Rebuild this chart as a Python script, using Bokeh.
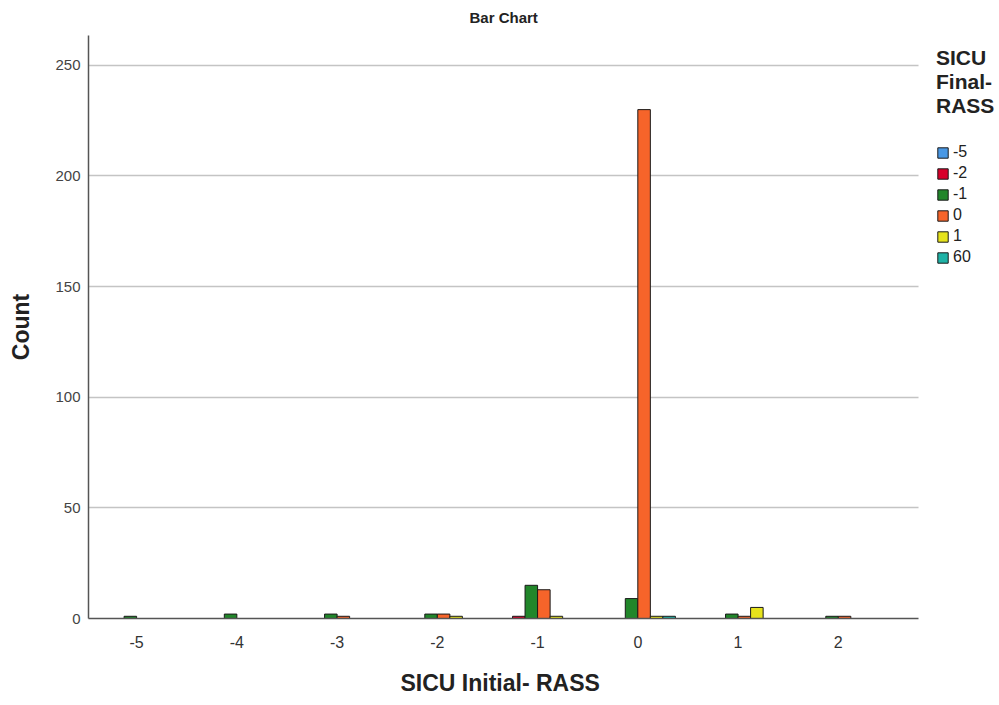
import numpy as np
from bokeh.plotting import figure
from bokeh.models import (ColumnDataSource, Range1d, FixedTicker, Legend, LegendItem,
                          BoxAnnotation, Title)
from bokeh.transform import dodge
from bokeh.embed import file_html
from bokeh.resources import INLINE

# SICU initial RASS on the x axis, clustered by final RASS
categories = ["-5", "-4", "-3", "-2", "-1", "0", "1", "2"]
series_names = ["-5", "-2", "-1", "0", "1", "60"]
counts_final_m5 = [0, 0, 0, 0, 0, 0, 0, 0]
counts_final_m2 = [0, 0, 0, 0, 1, 0, 0, 0]
counts_final_m1 = [1, 2, 2, 2, 15, 9, 2, 1]
counts_final_0 = [0, 0, 1, 2, 13, 230, 1, 1]
counts_final_1 = [0, 0, 0, 1, 1, 1, 5, 0]
counts_final_60 = [0, 0, 0, 0, 0, 1, 0, 0]
series_counts = [counts_final_m5, counts_final_m2, counts_final_m1,
                 counts_final_0, counts_final_1, counts_final_60]
series_colors = ["#4a98e4", "#d8002a", "#21862a", "#f6642a", "#e6e31c", "#1fb2a6"]

FONT = "Liberation Sans"

# the frame runs to the right edge so the legend sits inside it;
# axis line and grid stop at X_END
X_START, X_END, X_FRAME_END = -0.48, 7.8, 8.608

p = figure(width=999, height=705, output_backend="svg", toolbar_location=None,
           x_range=Range1d(X_START, X_FRAME_END), y_range=Range1d(0, 263.5),
           min_border_left=88, min_border_right=0, min_border_top=35,
           min_border_bottom=87)
p.outline_line_color = None
p.background_fill_color = "white"

bar_w = 0.125
n = len(series_names)
renderers = []
for k, (name, vals, col) in enumerate(zip(series_names, series_counts, series_colors)):
    # empty series keep their rows so the legend still has a swatch to draw
    idx = [i for i, v in enumerate(vals) if v > 0] or list(range(len(vals)))
    src = ColumnDataSource(dict(x=[float(i) for i in idx], top=[vals[i] for i in idx]))
    r = p.vbar(x=dodge("x", (k - (n - 1) / 2) * bar_w), top="top", width=bar_w,
               bottom=0, source=src, fill_color=col, line_color="#1a1a1a",
               line_width=1)
    renderers.append(r)

# axes
p.xaxis.ticker = FixedTicker(ticks=list(range(len(categories))))
p.xaxis.major_label_overrides = {i: c for i, c in enumerate(categories)}
p.xaxis.bounds = (X_START, X_END)
p.xaxis.major_tick_line_color = None
p.xaxis.major_tick_out = 0
p.xaxis.major_tick_in = 0
p.xaxis.minor_tick_line_color = None
p.xaxis.axis_line_color = "#555555"
p.xaxis.axis_line_width = 1.5
p.xaxis.major_label_text_font = FONT
p.xaxis.major_label_text_font_size = "16px"
p.xaxis.major_label_text_color = "#333333"
p.xaxis.major_label_standoff = 17

# x axis title, centred under the category axis (leading blank line drops it lower)
p.add_layout(Title(text="\nSICU Initial- RASS", align="left", offset=312,
                   vertical_align="top", text_line_height=0.64,
                   text_font=FONT, text_font_size="23px", text_font_style="bold",
                   text_color="#222222", standoff=5), "below")

p.yaxis.ticker = FixedTicker(ticks=[0, 50, 100, 150, 200, 250])
p.yaxis.major_tick_line_color = None
p.yaxis.major_tick_out = 0
p.yaxis.major_tick_in = 0
p.yaxis.minor_tick_line_color = None
p.yaxis.axis_line_color = "#555555"
p.yaxis.axis_line_width = 1.5
p.yaxis.major_label_text_font = FONT
p.yaxis.major_label_text_font_size = "15px"
p.yaxis.major_label_text_color = "#444444"
p.yaxis.major_label_standoff = 8
p.yaxis.axis_label = "Count"
p.yaxis.axis_label_text_font = FONT
p.yaxis.axis_label_text_font_size = "23px"
p.yaxis.axis_label_text_font_style = "bold"
p.yaxis.axis_label_text_color = "#222222"
p.yaxis.axis_label_standoff = 18

p.xgrid.grid_line_color = None
p.ygrid.grid_line_color = "#c4c4c4"
p.ygrid.grid_line_width = 1.5

# blank the grid lines beyond the last category
p.add_layout(BoxAnnotation(left=X_END, fill_color="white", fill_alpha=1,
                           line_color=None, level="underlay"))

p.title.text = "Bar Chart"
p.title.align = "left"
p.title.offset = 381
p.title.vertical_align = "top"
p.title.text_font = FONT
p.title.text_font_size = "15px"
p.title.text_font_style = "bold"
p.title.text_color = "#222222"
p.title.standoff = 15

legend = Legend(items=[LegendItem(label=nm, renderers=[r]) for nm, r in zip(series_names, renderers)],
                location=(848, 352), orientation="vertical",
                title="SICU\nFinal-\nRASS",
                title_text_font=FONT, title_text_font_size="21px",
                title_text_font_style="bold", title_text_color="#222222",
                title_text_line_height=0.92,
                title_standoff=25,
                glyph_width=13, glyph_height=13, label_height=13, spacing=3,
                label_standoff=4, padding=0, margin=0,
                label_text_font=FONT, label_text_font_size="16px",
                label_text_color="#222222",
                border_line_color=None, background_fill_alpha=0)
p.add_layout(legend, "center")

open("out.html", "w").write(file_html(p, INLINE))
